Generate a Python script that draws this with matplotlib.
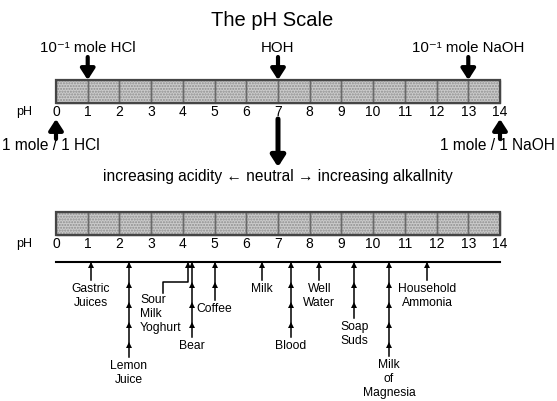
import numpy as np
import matplotlib.pyplot as plt

plt.rcParams['font.family'] = ['Liberation Sans', 'DejaVu Sans']

# pH scale ticks
ph_ticks = list(range(15))

# markers above / below the upper scale
top_labels = ['10⁻¹ mole HCl', 'HOH', '10⁻¹ mole NaOH']
top_ph = [1, 7, 13]
bottom_labels = ['1 mole / 1 HCl', '1 mole / 1 NaOH']
bottom_ph = [0, 14]
middle_text = 'increasing acidity ← neutral → increasing alkallnity'

# everyday substances on the lower scale
substances = ['Gastric\nJuices', 'Lemon\nJuice', 'Sour\nMilk\nYoghurt', 'Bear', 'Coffee',
              'Milk', 'Blood', 'Well\nWater', 'Soap\nSuds', 'Milk\nof\nMagnesia',
              'Household\nAmmonia']
substance_ph = [1.1, 2.3, 4.15, 4.3, 5.0, 6.5, 7.4, 8.3, 9.4, 10.5, 11.7]
# arrow tail (pixel row) for each substance
arrow_end = [280, 357, 293, 337, 300, 280, 337, 280, 318, 356, 280]

fig = plt.figure(figsize=(5.57, 4.01), dpi=100)
ax = fig.add_axes([0, 0, 1, 1])
unit = 444 / 14   # pixels per pH unit
ax.set_xlim(-56 / unit, (557 - 56) / unit)
ax.set_ylim(401, 0)
ax.axis('off')


def ph_bar(y0, y1):
    cells = np.arange(14)
    h = y1 - y0
    ax.bar(cells, h, bottom=y0, width=1, align='edge', color='#cbcbcb',
           hatch='......', edgecolor='#8e8e8e', lw=0)
    ax.bar(cells, h, bottom=y0, width=1, align='edge', fill=False,
           edgecolor='#6a6a6a', lw=1)
    ax.bar(0, h, bottom=y0, width=14, align='edge', fill=False,
           edgecolor='#454545', lw=1.6)
    for v in ph_ticks:
        ax.text(v, y1 + 9, str(v), ha='center', va='center', fontsize=10)
    ax.text(-1.0, y1 + 9, 'pH', ha='center', va='center', fontsize=9)


def big_arrow(x, y_tail, y_tip, lw=3):
    ax.annotate('', xy=(x, y_tip), xytext=(x, y_tail),
                arrowprops=dict(arrowstyle='-|>,head_width=0.42,head_length=0.65',
                                lw=lw, color='black', shrinkA=0, shrinkB=0))


def thin_arrow(x, y_tip, y_tail):
    ax.plot([x, x], [y_tip, y_tail], color='black', lw=1.1)
    heads = np.arange(y_tip, y_tail - 8, 20)
    ax.plot(np.full(len(heads), x), heads + 3.2, ls='none', marker='^',
            ms=4.5, color='black', mew=0)


ax.text(6.8, 20, 'The pH Scale', ha='center', va='center', fontsize=14.5)

# upper scale
ph_bar(80, 103)
for lab, v in zip(top_labels, top_ph):
    ax.text(v, 48, lab, ha='center', va='center', fontsize=10.8)
    big_arrow(v, 57, 80)
for lab, v in zip(bottom_labels, bottom_ph):
    big_arrow(v, 139, 119)
ax.text(-1.7, 145, bottom_labels[0], ha='left', va='center', fontsize=11.2)
ax.text(15.72, 145, bottom_labels[1], ha='right', va='center', fontsize=11.2)
big_arrow(7, 119, 167, lw=3.6)
ax.text(7, 176, middle_text, ha='center', va='center', fontsize=11.2)

# lower scale
ph_bar(212, 235)
ax.plot([0, 14], [262, 262], color='black', lw=1.5)
for lab, v, end in zip(substances, substance_ph, arrow_end):
    if lab.startswith('Sour'):
        # elbow connector for sour milk
        bend = v - 0.78
        ax.plot([bend, bend, v, v], [end, 282, 282, 262], color='black', lw=1.1)
        ax.plot([v], [265.2], marker='^', ms=4.5, color='black', mew=0)
        ax.text(v - 1.5, end + 1, lab, ha='left', va='top', fontsize=8.7,
                linespacing=1.2)
    else:
        thin_arrow(v, 262, end)
        ax.text(v, end + 3, lab, ha='center', va='top', fontsize=8.7,
                linespacing=1.2)

fig.savefig('out.png', dpi=100)
